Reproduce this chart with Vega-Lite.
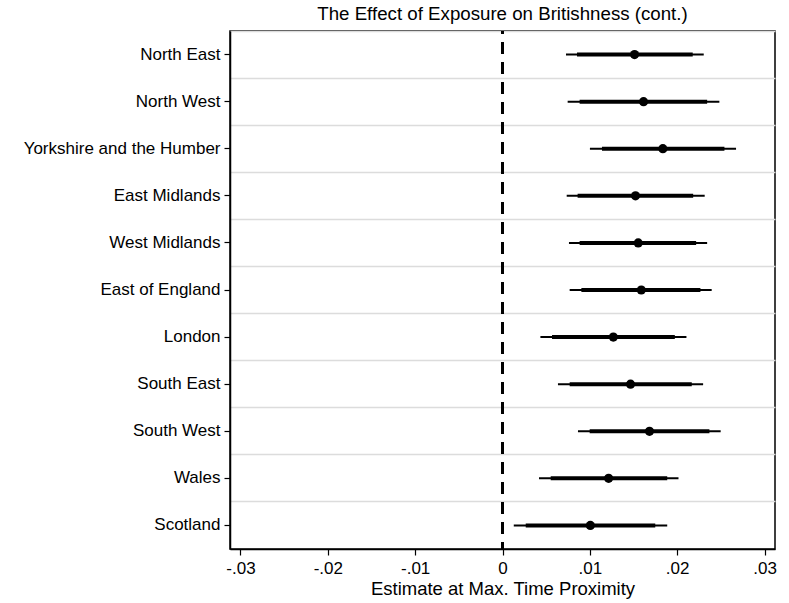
{
  "$schema": "https://vega.github.io/schema/vega-lite/v6.json",
  "autosize": {"type": "none"},
  "width": 545,
  "height": 518,
  "padding": {"left": 230, "top": 31, "right": 14, "bottom": 54},
  "background": "white",
  "title": {
    "text": "The Effect of Exposure on Britishness (cont.)",
    "font": "Liberation Sans",
    "fontSize": 18.7,
    "fontWeight": "normal",
    "color": "black",
    "anchor": "middle",
    "offset": 6
  },
  "data": {
    "values": [
      {"region": "North East", "est": 0.01512, "lo95": 0.00727, "hi95": 0.02304, "lo90": 0.00853, "hi90": 0.02178},
      {"region": "North West", "est": 0.01615, "lo95": 0.00746, "hi95": 0.02483, "lo90": 0.00883, "hi90": 0.02343},
      {"region": "Yorkshire and the Humber", "est": 0.01836, "lo95": 0.01001, "hi95": 0.02674, "lo90": 0.01139, "hi90": 0.02541},
      {"region": "East Midlands", "est": 0.01523, "lo95": 0.00735, "hi95": 0.02315, "lo90": 0.0086, "hi90": 0.02183},
      {"region": "West Midlands", "est": 0.01554, "lo95": 0.00761, "hi95": 0.02343, "lo90": 0.00883, "hi90": 0.02217},
      {"region": "East of England", "est": 0.01589, "lo95": 0.00769, "hi95": 0.02395, "lo90": 0.00903, "hi90": 0.02266},
      {"region": "London", "est": 0.01269, "lo95": 0.00434, "hi95": 0.02106, "lo90": 0.00567, "hi90": 0.01973},
      {"region": "South East", "est": 0.01466, "lo95": 0.00635, "hi95": 0.02297, "lo90": 0.00769, "hi90": 0.02167},
      {"region": "South West", "est": 0.01683, "lo95": 0.00864, "hi95": 0.02498, "lo90": 0.00998, "hi90": 0.02369},
      {"region": "Wales", "est": 0.01215, "lo95": 0.00418, "hi95": 0.02015, "lo90": 0.00552, "hi90": 0.01886},
      {"region": "Scotland", "est": 0.01006, "lo95": 0.00129, "hi95": 0.01886, "lo90": 0.00266, "hi90": 0.01749}
    ]
  },
  "resolve": {"axis": {"y": "independent"}},
  "layer": [
    {
      "mark": {"type": "rule", "color": "black", "strokeWidth": 2},
      "encoding": {
        "y": {
          "field": "region", "type": "nominal", "sort": null,
          "scale": {"type": "band", "paddingInner": 0, "paddingOuter": 0},
          "axis": {"orient": "left", "grid": true, "bandPosition": 0, "gridColor": "#dcdcdc", "gridWidth": 1.5, "labels": false, "ticks": false, "domain": false, "title": null}
        },
        "x": {
          "field": "lo95", "type": "quantitative",
          "scale": {"domain": [-0.0312, 0.0312], "nice": false, "zero": false},
          "axis": {
            "values": [-0.03, -0.02, -0.01, 0, 0.01, 0.02, 0.03],
            "labelExpr": "datum.value == 0 ? '0' : (datum.value < 0 ? '-' : '') + '.0' + abs(round(datum.value * 100))",
            "grid": false,
            "title": "Estimate at Max. Time Proximity",
            "titleFont": "Liberation Sans",
            "titleFontSize": 18.5,
            "titleFontWeight": "normal",
            "titleColor": "black",
            "titlePadding": 3,
            "labelFont": "Liberation Sans",
            "labelFontSize": 17,
            "labelColor": "black",
            "labelPadding": 5,
            "tickColor": "black",
            "tickSize": 6,
            "tickWidth": 1.2,
            "domainColor": "black",
            "domainWidth": 1.5
          }
        },
        "x2": {"field": "hi95"}
      }
    },
    {
      "mark": {"type": "rule", "color": "black", "strokeWidth": 4},
      "encoding": {
        "y": {"field": "region", "type": "nominal", "sort": null, "axis": null},
        "x": {"field": "lo90", "type": "quantitative"},
        "x2": {"field": "hi90"}
      }
    },
    {
      "mark": {"type": "rule", "color": "black", "strokeWidth": 2.5, "strokeDash": [12, 8], "strokeDashOffset": 9},
      "encoding": {"x": {"datum": 0}}
    },
    {
      "mark": {"type": "point", "shape": "circle", "filled": true, "color": "black", "opacity": 1, "size": 85},
      "encoding": {
        "y": {
          "field": "region", "type": "nominal", "sort": null,
          "axis": {
            "orient": "left",
            "grid": false, "title": null,
            "labelFont": "Liberation Sans", "labelFontSize": 17, "labelColor": "black", "labelLimit": 0,
            "labelPadding": 4, "tickColor": "black", "tickSize": 6, "tickWidth": 1.2,
            "domainColor": "black", "domainWidth": 1.5
          }
        },
        "x": {"field": "est", "type": "quantitative"}
      }
    }
  ],
  "config": {
    "view": {"stroke": "black", "strokeWidth": 1.5},
    "font": "Liberation Sans"
  }
}
